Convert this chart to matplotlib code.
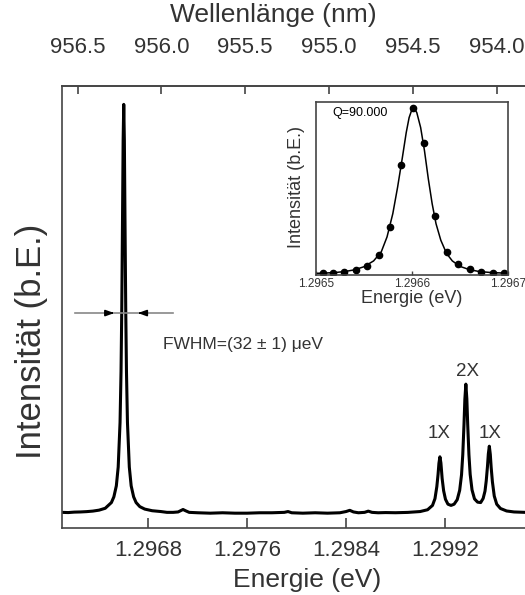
import numpy as np
import matplotlib.pyplot as plt

plt.rcParams['font.family'] = ['Liberation Sans', 'DejaVu Sans']

HC = 1239.84  # eV nm

# main spectrum
energy_ev = [1.29610, 1.29615, 1.29620, 1.29625, 1.29630, 1.29635, 1.29640, 1.29645,
             1.29650, 1.29652, 1.29654, 1.296555, 1.29657, 1.296578, 1.296584, 1.29659,
             1.296595, 1.29660, 1.296605, 1.29661, 1.296616, 1.296622, 1.29663, 1.296645,
             1.29666, 1.29668, 1.29670, 1.29673, 1.29677, 1.29683, 1.29690, 1.29695,
             1.29700, 1.29704, 1.29706, 1.29708, 1.29710, 1.29713, 1.29720, 1.29730,
             1.29740, 1.29750, 1.29760, 1.29770, 1.29780, 1.29790, 1.29793, 1.29796,
             1.29805, 1.29815, 1.29825, 1.29835, 1.29840, 1.29843, 1.29846, 1.29850,
             1.29855, 1.29858, 1.29861, 1.29866, 1.29872, 1.29880, 1.29890, 1.29900,
             1.29906, 1.29910, 1.29912, 1.299135, 1.299145, 1.299152, 1.29916, 1.299168,
             1.299178, 1.29919, 1.299205, 1.299225, 1.29925, 1.299275, 1.29930, 1.29932,
             1.299335, 1.299345, 1.299355, 1.299362, 1.29937, 1.299378, 1.299385, 1.299395,
             1.299405, 1.29942, 1.29944, 1.299465, 1.29949, 1.29951, 1.299525, 1.299535,
             1.299545, 1.299552, 1.29956, 1.299568, 1.299575, 1.299585, 1.29960, 1.29962,
             1.29965, 1.29970, 1.29976, 1.29985, 1.29990]
intensity = [0.004, 0.0035, 0.0046, 0.0050, 0.0058, 0.0071, 0.0094, 0.0140,
             0.028, 0.042, 0.069, 0.115, 0.224, 0.349, 0.503, 0.722,
             0.914, 1.003, 0.914, 0.722, 0.503, 0.349, 0.224, 0.115,
             0.069, 0.042, 0.028, 0.018, 0.012, 0.008, 0.006, 0.004,
             0.004, 0.005, 0.008, 0.011, 0.008, 0.004, 0.003, 0.002,
             0.003, 0.002, 0.002, 0.003, 0.003, 0.004, 0.006, 0.003,
             0.002, 0.003, 0.002, 0.003, 0.006, 0.009, 0.005, 0.003,
             0.004, 0.007, 0.004, 0.003, 0.0035, 0.0031, 0.0039, 0.006,
             0.0104, 0.021, 0.0376, 0.067, 0.097, 0.124, 0.140, 0.125,
             0.087, 0.057, 0.036, 0.024, 0.021, 0.024, 0.035, 0.058,
             0.096, 0.145, 0.219, 0.281, 0.318, 0.282, 0.219, 0.145,
             0.097, 0.059, 0.037, 0.029, 0.028, 0.038, 0.056, 0.081,
             0.116, 0.147, 0.166, 0.146, 0.114, 0.079, 0.044, 0.024,
             0.0135, 0.0074, 0.005, 0.004, 0.004]

# inset: measured points and fit of the main line
inset_energy = [1.296507, 1.296518, 1.296529, 1.296542, 1.296553, 1.296566, 1.296577,
                1.296589, 1.296601, 1.296613, 1.296624, 1.296636, 1.296648, 1.296660,
                1.296672, 1.296684, 1.296696]
inset_intensity = [0.0, 0.004, 0.008, 0.020, 0.044, 0.110, 0.281, 0.654, 1.0,
                   0.785, 0.346, 0.127, 0.054, 0.024, 0.008, 0.004, 0.0]
fit_energy = [1.29650, 1.29651, 1.29652, 1.29653, 1.29654, 1.29655, 1.29656, 1.296568,
              1.296574, 1.29658, 1.296585, 1.29659, 1.296594, 1.296597, 1.29660, 1.296602,
              1.296605, 1.296609, 1.296613, 1.296617, 1.296621, 1.296625, 1.29663,
              1.296636, 1.296642, 1.29665, 1.29666, 1.29667, 1.29668, 1.29669, 1.29670]
fit_intensity = [0.0, 0.002, 0.005, 0.011, 0.021, 0.040, 0.075, 0.13, 0.22, 0.36, 0.52,
                 0.70, 0.85, 0.94, 0.99, 1.0, 0.97, 0.88, 0.74, 0.57, 0.42, 0.30, 0.20,
                 0.12, 0.075, 0.042, 0.022, 0.011, 0.006, 0.003, 0.001]

energy_ticks = [1.2968, 1.2976, 1.2984, 1.2992]
wavelength_ticks = [956.5, 956.0, 955.5, 955.0, 954.5, 954.0]
inset_ticks = [1.2965, 1.2966, 1.2967]

peak_labels = ['1X', '2X', '1X']
peak_label_x = [1.299156, 1.299383, 1.299569]
peak_label_y = [0.196, 0.350, 0.196]

txt = '#333333'
spine = '#444444'


def to_nm(e):
    e = np.asarray(e, dtype=float)
    with np.errstate(divide='ignore'):
        return HC / e


def to_ev(lam):
    lam = np.asarray(lam, dtype=float)
    with np.errstate(divide='ignore'):
        return HC / lam


fig = plt.figure(figsize=(5.25, 5.95), dpi=100)
ax = fig.add_axes([62 / 525, 67 / 595, 465.6 / 525, 442 / 595])
ax.plot(energy_ev, intensity, color='black', lw=2.2, solid_joinstyle='round')
ax.set_xlim(1.29610, 1.29987)
ax.set_ylim(-0.0343, 1.048)
ax.set_xticks(energy_ticks)
ax.set_xticklabels([f'{t:.4f}' for t in energy_ticks])
ax.set_yticks([])
ax.tick_params(axis='x', direction='in', length=7, width=1.2, labelsize=16,
               pad=9, labelcolor=txt, color=spine)
for s in ax.spines.values():
    s.set_color(spine)
    s.set_linewidth(1.2)

ax.set_xlabel('Energie (eV)', fontsize=19, color=txt, va='center')
ax.xaxis.set_label_coords(0.526, -0.118)
ax.set_ylabel('Intensität (b.E.)', fontsize=25, color=txt, va='center')
ax.yaxis.set_label_coords(-0.066, 0.423)

secax = ax.secondary_xaxis('top', functions=(to_nm, to_ev))
secax.set_xticks(wavelength_ticks)
secax.set_xticklabels([f'{t:.1f}' for t in wavelength_ticks])
secax.tick_params(direction='in', length=6, width=1.2, labelsize=16, pad=20,
                  labelcolor=txt, color=spine)
secax.spines['top'].set_color(spine)
secax.spines['top'].set_linewidth(1.2)
fig.text(273 / 525, 1 - 15 / 595, 'Wellenlänge (nm)', fontsize=19, color=txt,
         ha='center', va='center')

# FWHM marker
ax.plot([1.296205, 1.297000], [0.492, 0.492], color='#888888', lw=1.2)
ax.annotate('', xy=(1.296546, 0.492), xytext=(1.296466, 0.492),
            arrowprops=dict(arrowstyle='-|>,head_length=0.5,head_width=0.18',
                            color='black', lw=1.2))
ax.annotate('', xy=(1.296692, 0.492), xytext=(1.296772, 0.492),
            arrowprops=dict(arrowstyle='-|>,head_length=0.5,head_width=0.18',
                            color='black', lw=1.2))
ax.text(1.296919, 0.414, 'FWHM=(32 ± 1) μeV', fontsize=12.5, color=txt, va='center')

for lab, x, y in zip(peak_labels, peak_label_x, peak_label_y):
    ax.text(x, y, lab, fontsize=13.5, color=txt, ha='center', va='center')

# inset
axin = fig.add_axes([316 / 525, 320 / 595, 192 / 525, 173 / 595])
axin.plot(fit_energy, fit_intensity, color='black', lw=1.1)
axin.plot(inset_energy, inset_intensity, 'o', color='black', ms=4.5)
axin.set_xlim(1.29650, 1.29670)
axin.set_ylim(-0.010, 1.034)
axin.set_xticks(inset_ticks)
axin.set_xticklabels([f'{t:.4f}' for t in inset_ticks])
axin.set_yticks([])
axin.tick_params(axis='x', direction='in', length=3, width=1, labelsize=8.5,
                 pad=2, labelcolor=txt, color=spine)
for s in axin.spines.values():
    s.set_color(spine)
    s.set_linewidth(1.2)
axin.set_xlabel('Energie (eV)', fontsize=13, color=txt, va='center')
axin.xaxis.set_label_coords(0.5, -0.133)
axin.set_ylabel('Intensität (b.E.)', fontsize=13, color=txt, va='center')
axin.yaxis.set_label_coords(-0.099, 0.506)
axin.text(0.083, 0.936, 'Q=90.000', transform=axin.transAxes, fontsize=9,
          color='black', va='center')

fig.savefig('out.png', dpi=100)
